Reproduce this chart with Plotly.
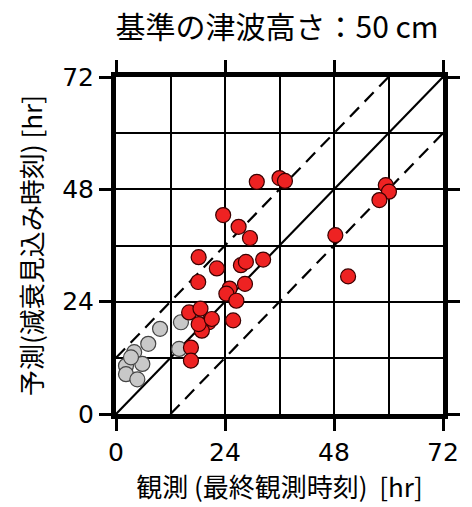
import plotly.graph_objects as go

# Observed vs. predicted time (hours)
obs_red = [31.0, 36.0, 37.2, 23.6, 27.0, 29.5, 18.2, 22.2, 27.5, 28.6, 32.4, 18.1,
           28.4, 25.0, 24.3, 26.5, 25.8, 16.1, 18.6, 20.4, 18.9, 18.2, 21.1, 16.5,
           16.5, 59.4, 60.1, 58.0, 48.3, 51.1]
pred_red = [49.6, 50.4, 49.8, 42.5, 40.0, 37.6, 33.5, 31.1, 31.8, 32.5, 33.0, 28.2,
            27.8, 26.8, 25.7, 24.2, 20.0, 21.7, 22.5, 19.6, 17.8, 19.2, 20.3, 14.2,
            11.4, 48.9, 47.5, 45.7, 38.2, 29.4]

obs_gray = [9.7, 14.3, 13.9, 7.1, 4.0, 5.8, 2.2, 2.2, 4.7, 3.3]
pred_gray = [18.2, 19.6, 13.9, 15.0, 13.2, 10.7, 10.3, 8.5, 7.4, 12.1]

axis_max = 72
tick_vals = [0, 24, 48, 72]
ref_offsets = [0, 12, -12]  # y = x + offset

fig = go.Figure()

for off in ref_offsets:
    xs = [max(0, -off), min(axis_max, axis_max - off)]
    ys = [x + off for x in xs]
    fig.add_trace(go.Scatter(
        x=xs, y=ys, mode="lines",
        line=dict(color="black", width=2.2, dash="solid" if off == 0 else "13px,8px"),
        hoverinfo="skip", showlegend=False))

fig.add_trace(go.Scatter(
    x=obs_gray, y=pred_gray, mode="markers",
    marker=dict(size=15, color="rgb(200,200,200)", line=dict(color="#444", width=1.2)),
    showlegend=False))
fig.add_trace(go.Scatter(
    x=obs_red, y=pred_red, mode="markers",
    marker=dict(size=15, color="rgb(238,34,34)", line=dict(color="#3a0000", width=1.2)),
    showlegend=False))

axis_common = dict(
    range=[0, axis_max], tickvals=tick_vals, ticktext=[str(v) for v in tick_vals],
    showgrid=True, gridcolor="black", gridwidth=1.5,
    minor=dict(dtick=12, tick0=0, showgrid=True, gridcolor="black", gridwidth=1.5, ticks=""),
    showline=True, linecolor="black", linewidth=5, mirror="ticks",
    ticks="outside", ticklen=12, tickwidth=3, tickcolor="black",
    zeroline=False,
    tickfont=dict(family="DejaVu Sans, sans-serif", size=25, color="black"),
)

fig.update_layout(
    width=472, height=507,
    margin=dict(l=116, r=21, t=77, b=93),
    paper_bgcolor="white", plot_bgcolor="white",
    title=dict(text="基準の津波高さ：50 cm", x=0.587, xanchor="center", y=0.945, yanchor="middle",
               font=dict(family="Noto Sans CJK JP", size=30, color="black")),
    xaxis=dict(axis_common,
               title=dict(text="観測 (最終観測時刻)  [hr]", standoff=10,
                          font=dict(family="Noto Sans CJK JP", size=26, color="black"))),
    yaxis=dict(axis_common,
               title=dict(text="予測(減衰見込み時刻) [hr]", standoff=14,
                          font=dict(family="Noto Sans CJK JP", size=26, color="black"))),
)

fig.write_html("out.html")
